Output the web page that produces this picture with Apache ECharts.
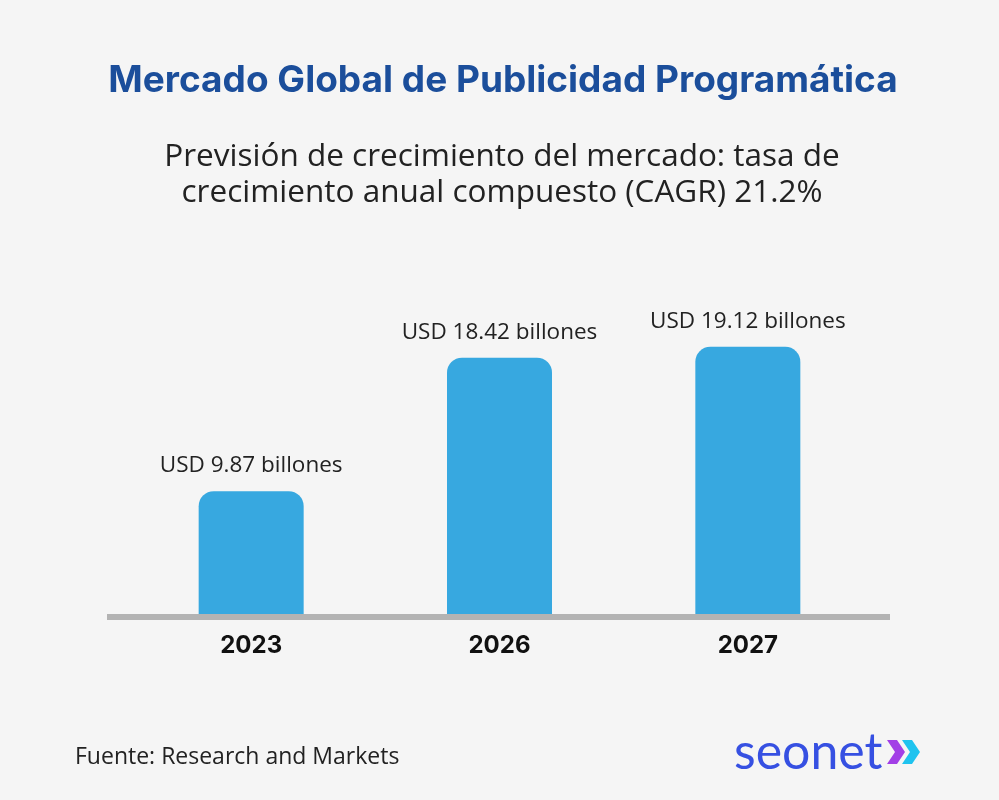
<!DOCTYPE html>
<html><head><meta charset="utf-8">
<script src="https://cdn.jsdelivr.net/npm/echarts@6/dist/echarts.min.js"></script>
<style>html,body{margin:0;padding:0;background:#f5f5f5}#c{width:999px;height:800px}</style>
</head><body><div id="c"></div>
<script>
const categories = ['2023', '2026', '2027'];
const values = [9.87, 18.42, 19.12];
const valueLabels = ['USD 9.87 billones', 'USD 18.42 billones', 'USD 19.12 billones'];
const titleText = 'Mercado Global de Publicidad Programática';
const subtitleText = 'Previsión de crecimiento del mercado: tasa de\ncrecimiento anual compuesto (CAGR) 21.2%';
const sourceText = 'Fuente: Research and Markets';
const brandText = 'seonet';

const chart = echarts.init(document.getElementById('c'), null, {renderer: 'canvas'});
chart.setOption({
  backgroundColor: '#f5f5f5',
  animation: false,
  title: [{
    text: titleText, left: 498, top: 57, textAlign: 'center',
    textStyle: {fontFamily: 'Inter', fontWeight: 'bold', fontSize: 37, color: '#1b4e9b'}
  }, {
    text: subtitleText, left: 497, top: 134, textAlign: 'center',
    textStyle: {fontFamily: 'Open Sans', fontWeight: 'normal', fontSize: 31.5, lineHeight: 36, color: '#222222'}
  }, {
    text: sourceText, left: 70, top: 741,
    textStyle: {fontFamily: 'Open Sans', fontWeight: 'normal', fontSize: 23, color: '#222222'}
  }, {
    text: brandText, left: 729, top: 723,
    textStyle: {fontFamily: 'Lato', fontWeight: 'normal', fontSize: 50, color: '#3650e2'}
  }],
  grid: {left: 127, right: 127, top: 333, bottom: 186},
  xAxis: {
    type: 'category', data: categories,
    axisLine: {show: false}, axisTick: {show: false},
    axisLabel: {margin: 20, fontFamily: 'Inter', fontWeight: 'bold', fontSize: 24, color: '#111111'}
  },
  yAxis: {type: 'value', min: 2, max: 20, show: false, splitLine: {show: false}},
  series: [{
    type: 'bar', data: values, barWidth: 105,
    itemStyle: {color: '#37a8e0', borderRadius: [15, 15, 0, 0]},
    label: {
      show: true, position: 'top', distance: 14,
      formatter: p => valueLabels[p.dataIndex],
      fontFamily: 'Open Sans', fontSize: 22.5, color: '#222222'
    }
  }],
  graphic: [
    {type: 'rect', left: 107, top: 614, shape: {width: 783, height: 6}, style: {fill: '#b3b3b3'}, z: 10},
    {type: 'polygon', shape: {points: [[887,740],[897,740],[905,752],[897,764],[887,764],[895,752]]}, style: {fill: '#a23fe6'}},
    {type: 'polygon', shape: {points: [[902,740],[912,740],[920,752],[912,764],[902,764],[910,752]]}, style: {fill: '#1fc3ef'}}
  ]
});
</script></body></html>
